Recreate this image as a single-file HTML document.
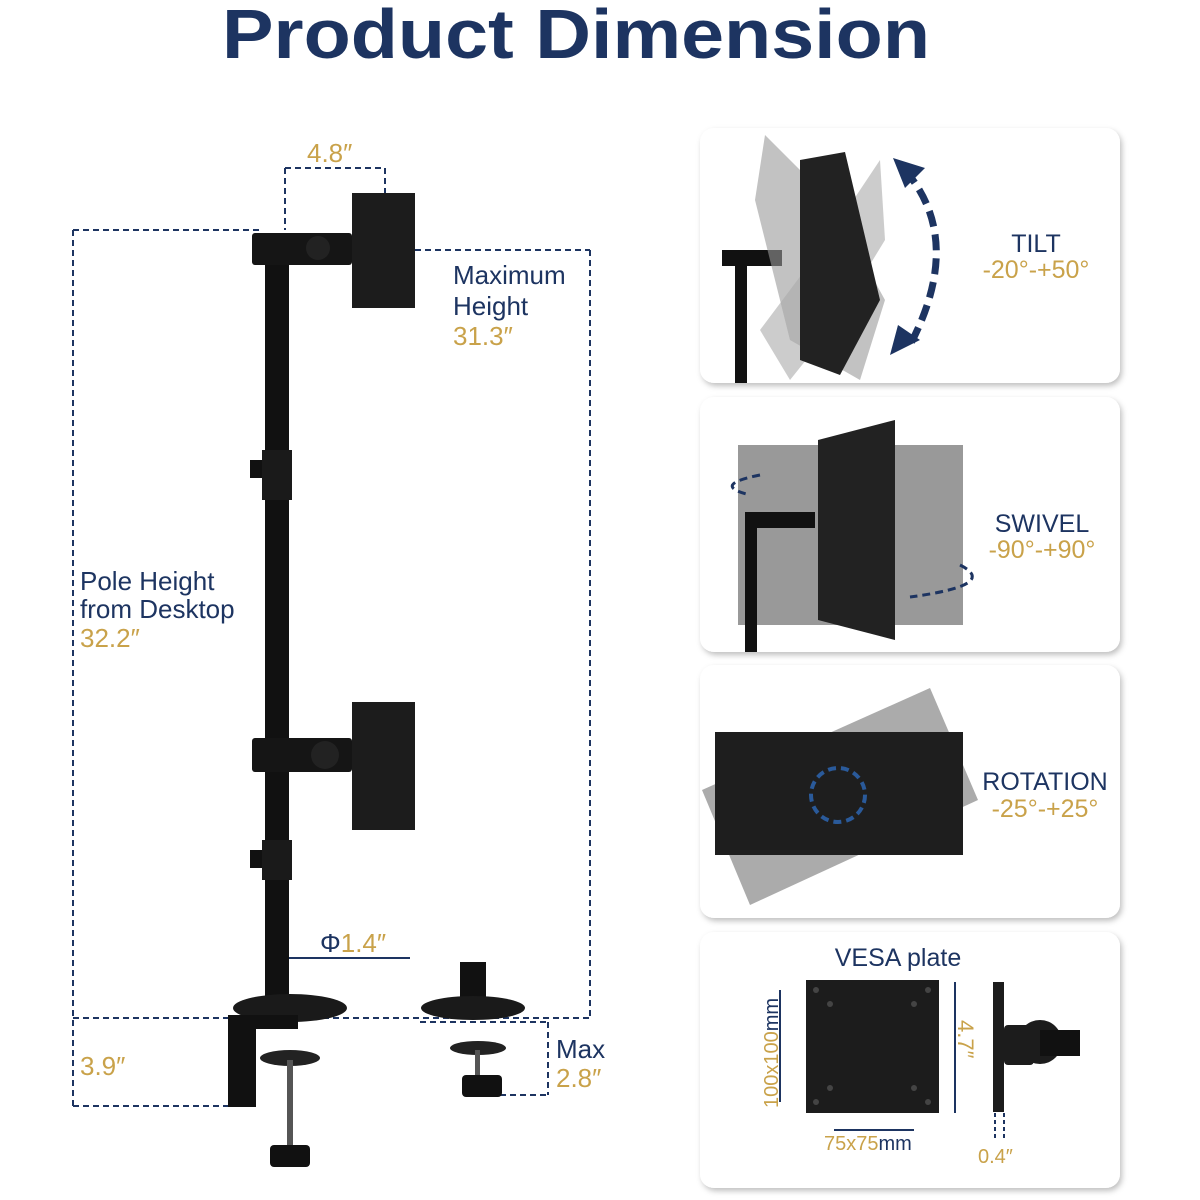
<!DOCTYPE html>
<html><head><meta charset="utf-8"><style>
html,body{margin:0;padding:0;background:#fff;}
svg{display:block;}
text{font-family:"Liberation Sans","DejaVu Sans",sans-serif;}
</style></head><body>
<svg width="1200" height="1200" viewBox="0 0 1200 1200" xmlns="http://www.w3.org/2000/svg">
<defs>
<filter id="sh" x="-10%" y="-10%" width="120%" height="120%"><feDropShadow dx="2" dy="3" stdDeviation="3" flood-color="#000" flood-opacity="0.25"/></filter>
</defs>
<rect width="1200" height="1200" fill="#fff"/>
<text x="222" y="58" textLength="708" lengthAdjust="spacingAndGlyphs" font-size="70" font-weight="bold" fill="#1d3461">Product Dimension</text>

<g stroke="#1d3461" stroke-width="2" stroke-dasharray="6,4" fill="none">
<line x1="73" y1="230" x2="73" y2="1108"/>
<line x1="73" y1="230" x2="262" y2="230"/>
<line x1="590" y1="250" x2="590" y2="1020"/>
<line x1="395" y1="250" x2="590" y2="250"/>
<line x1="73" y1="1018" x2="590" y2="1018"/>
<line x1="73" y1="1106" x2="250" y2="1106"/>
<line x1="285" y1="168" x2="285" y2="230"/>
<line x1="285" y1="168" x2="385" y2="168"/>
<line x1="385" y1="168" x2="385" y2="245"/>
<line x1="420" y1="1022" x2="548" y2="1022"/>
<line x1="548" y1="1022" x2="548" y2="1095"/>
<line x1="470" y1="1095" x2="548" y2="1095"/>
</g>
<line x1="270" y1="958" x2="410" y2="958" stroke="#1d3461" stroke-width="2"/>

<rect x="265" y="235" width="24" height="770" fill="#111"/>
<rect x="262" y="450" width="30" height="50" fill="#1a1a1a"/>
<rect x="262" y="840" width="30" height="40" fill="#1a1a1a"/>
<rect x="250" y="460" width="12" height="18" fill="#111"/>
<rect x="250" y="850" width="12" height="18" fill="#111"/>
<rect x="252" y="233" width="100" height="32" rx="3" fill="#151515"/>
<circle cx="318" cy="248" r="12" fill="#222"/>
<rect x="352" y="193" width="63" height="115" fill="#1c1c1c"/>
<rect x="252" y="738" width="100" height="34" rx="3" fill="#151515"/>
<circle cx="325" cy="755" r="14" fill="#222"/>
<rect x="352" y="702" width="63" height="128" fill="#1c1c1c"/>
<ellipse cx="290" cy="1008" rx="57" ry="14" fill="#1a1a1a"/>
<rect x="228" y="1015" width="28" height="92" fill="#111"/>
<rect x="228" y="1015" width="70" height="14" fill="#111"/>
<ellipse cx="290" cy="1058" rx="30" ry="8" fill="#222"/>
<rect x="287" y="1060" width="6" height="88" fill="#555"/>
<rect x="270" y="1145" width="40" height="22" rx="4" fill="#111"/>
<rect x="460" y="962" width="26" height="45" fill="#111"/>
<ellipse cx="473" cy="1008" rx="52" ry="12" fill="#1a1a1a"/>
<ellipse cx="478" cy="1048" rx="28" ry="7" fill="#222"/>
<rect x="475" y="1050" width="5" height="30" fill="#555"/>
<rect x="462" y="1075" width="40" height="22" rx="4" fill="#111"/>

<g font-size="26">
<text x="307" y="162" fill="#c9a24a">4.8″</text>
<text x="453" y="284" fill="#1d3461">Maximum</text>
<text x="453" y="315" fill="#1d3461">Height</text>
<text x="453" y="345" fill="#c9a24a">31.3″</text>
<text x="80" y="590" fill="#1d3461">Pole Height</text>
<text x="80" y="618" fill="#1d3461">from Desktop</text>
<text x="80" y="647" fill="#c9a24a">32.2″</text>
<text x="320" y="952" fill="#1d3461">Φ<tspan fill="#c9a24a">1.4″</tspan></text>
<text x="80" y="1075" fill="#c9a24a">3.9″</text>
<text x="556" y="1058" fill="#1d3461">Max</text>
<text x="556" y="1087" fill="#c9a24a">2.8″</text>
</g>

<g filter="url(#sh)" fill="#fff">
<rect x="700" y="128" width="420" height="255" rx="14"/>
<rect x="700" y="397" width="420" height="255" rx="14"/>
<rect x="700" y="665" width="420" height="253" rx="14"/>
<rect x="700" y="932" width="420" height="256" rx="14"/>
</g>
<rect x="735" y="250" width="12" height="133" fill="#111"/>
<rect x="722" y="250" width="60" height="16" fill="#111"/>
<polygon points="765,135 830,200 885,300 860,380 790,340 755,200" fill="#999" opacity="0.6"/>
<polygon points="760,330 820,250 880,160 885,240 830,330 790,380" fill="#aaa" opacity="0.6"/>
<polygon points="800,160 845,152 880,300 840,375 800,360" fill="#222"/>
<path d="M905,170 Q965,240 910,345" stroke="#1d3461" stroke-width="7" stroke-dasharray="16,8" fill="none"/>
<polygon points="893,158 925,168 905,188" fill="#1d3461"/>
<polygon points="890,355 920,340 898,325" fill="#1d3461"/>
<text x="1036" y="252" font-size="25" text-anchor="middle" fill="#1d3461">TILT</text>
<text x="1036" y="278" font-size="25" text-anchor="middle" fill="#c9a24a">-20°-+50°</text>
<rect x="738" y="445" width="225" height="180" fill="#999"/>
<polygon points="818,440 895,420 895,640 818,620" fill="#222"/>
<rect x="745" y="515" width="12" height="137" fill="#111"/>
<rect x="745" y="512" width="70" height="16" fill="#111"/>
<path d="M760,475 q-50,10 -10,20" stroke="#1d3461" stroke-width="3" stroke-dasharray="8,5" fill="none"/>
<path d="M960,565 q40,20 -50,32" stroke="#1d3461" stroke-width="3" stroke-dasharray="8,5" fill="none"/>
<text x="1042" y="532" font-size="25" text-anchor="middle" fill="#1d3461">SWIVEL</text>
<text x="1042" y="558" font-size="25" text-anchor="middle" fill="#c9a24a">-90°-+90°</text>
<polygon points="702,790 930,688 978,800 750,905" fill="#888" opacity="0.7"/>
<rect x="715" y="732" width="248" height="123" fill="#1e1e1e"/>
<circle cx="838" cy="795" r="27" stroke="#2a5a9a" stroke-width="4" stroke-dasharray="8,5" fill="none"/>
<text x="1045" y="790" font-size="25" text-anchor="middle" fill="#1d3461">ROTATION</text>
<text x="1045" y="817" font-size="25" text-anchor="middle" fill="#c9a24a">-25°-+25°</text>
<text x="898" y="966" font-size="25" text-anchor="middle" fill="#1d3461">VESA plate</text>
<rect x="806" y="980" width="133" height="133" fill="#1c1c1c"/>
<g fill="#444"><circle cx="816" cy="990" r="3"/><circle cx="928" cy="990" r="3"/><circle cx="816" cy="1102" r="3"/><circle cx="928" cy="1102" r="3"/><circle cx="830" cy="1004" r="3"/><circle cx="914" cy="1004" r="3"/><circle cx="830" cy="1088" r="3"/><circle cx="914" cy="1088" r="3"/></g>
<g stroke="#1d3461" stroke-width="2" fill="none">
<line x1="780" y1="990" x2="780" y2="1102"/>
<line x1="955" y1="982" x2="955" y2="1113"/>
<line x1="834" y1="1130" x2="914" y2="1130"/>
<line x1="995" y1="1113" x2="995" y2="1140" stroke-dasharray="4,3"/>
<line x1="1004" y1="1113" x2="1004" y2="1140" stroke-dasharray="4,3"/>
</g>
<text transform="translate(778,1108) rotate(-90)" font-size="20" fill="#c9a24a">100x100<tspan fill="#1d3461">mm</tspan></text>
<text transform="translate(958,1020) rotate(90)" font-size="22" fill="#c9a24a">4.7″</text>
<text x="824" y="1150" font-size="20" fill="#c9a24a">75x75<tspan fill="#1d3461">mm</tspan></text>
<text x="978" y="1163" font-size="20" fill="#c9a24a">0.4″</text>
<rect x="993" y="982" width="11" height="130" fill="#1c1c1c"/>
<rect x="1004" y="1025" width="30" height="40" rx="4" fill="#1c1c1c"/>
<circle cx="1040" cy="1042" r="22" fill="#1c1c1c"/>
<rect x="1040" y="1030" width="40" height="26" fill="#111"/>
</svg>
</body></html>
